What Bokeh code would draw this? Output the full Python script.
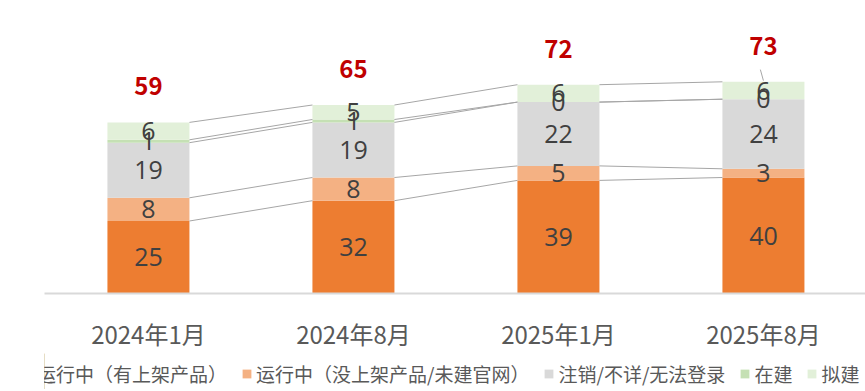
from bokeh.plotting import figure
from bokeh.layouts import column
from bokeh.models import ColumnDataSource, Range1d, FixedTicker, Legend, LegendItem
from bokeh.core.properties import value
from bokeh.embed import file_html
from bokeh.resources import INLINE

categories = ["2024年1月", "2024年8月", "2025年1月", "2025年8月"]
series_names = ["运行中（有上架产品）", "运行中（没上架产品/未建官网）", "注销/不详/无法登录", "在建", "拟建"]
running_listed = [25, 32, 39, 40]
running_unlisted = [8, 8, 5, 3]
cancelled = [19, 19, 22, 24]
building = [1, 1, 0, 0]
planned = [6, 5, 6, 6]
colors = ["#ED7D31", "#F4B183", "#D9D9D9", "#C5E0B4", "#E2F0D9"]

series = [running_listed, running_unlisted, cancelled, building, planned]
n = len(categories)
xs = list(range(n))
totals = [sum(s[i] for s in series) for i in range(n)]

FONT = "Noto Sans CJK SC"
bar_w = 0.4
FW = 821
PX_PER_CAT = 205
PX_PER_UNIT = 2.9

p = figure(frame_width=FW, frame_height=285, output_backend="svg", toolbar_location=None,
           x_range=Range1d(-0.507, -0.507 + FW / PX_PER_CAT), y_range=Range1d(0, 285 / PX_PER_UNIT),
           y_axis_location=None, min_border_left=44, min_border_right=0,
           min_border_top=8, min_border_bottom=60)
p.outline_line_color = None
p.xgrid.visible = False
p.ygrid.visible = False
p.background_fill_color = "white"
p.border_fill_color = "white"

data = {"x": xs}
keys = []
for k, s in enumerate(series):
    key = f"s{k}"
    keys.append(key)
    data[key] = s
src = ColumnDataSource(data)
rs = p.vbar_stack(keys, x="x", width=bar_w, color=colors, source=src, line_color=None)

# connector lines
x0s, y0s, x1s, y1s = [], [], [], []
cum = [[0] * n]
for s in series:
    cum.append([cum[-1][i] + s[i] for i in range(n)])
for lvl in cum[1:]:
    for i in range(n - 1):
        x0s.append(xs[i] + bar_w / 2)
        x1s.append(xs[i + 1] - bar_w / 2)
        y0s.append(lvl[i])
        y1s.append(lvl[i + 1])
p.segment(x0=x0s, y0=y0s, x1=x1s, y1=y1s, line_color="#A6A6A6", line_width=1)

# segment labels
lx, ly, lt = [], [], []
for k, s in enumerate(series):
    for i in range(n):
        lx.append(xs[i])
        ly.append(cum[k][i] + s[i] / 2)
        lt.append(str(s[i]))
p.text(x=lx, y=ly, text=lt, text_align="center", text_baseline="middle",
       text_font=value("Open Sans"), text_font_size="25px", text_color="#404040")

# leader line for last label
p.segment(x0=[xs[-1] - 0.015], y0=[totals[-1] + 4.2], x1=[xs[-1]], y1=[totals[-1] + 0.4],
          line_color="#A6A6A6", line_width=1)

# totals
p.text(x=xs, y=totals, text=[str(t) for t in totals], y_offset=-36,
       text_align="center", text_baseline="middle",
       text_font=value(FONT), text_font_size="24px", text_font_style="bold",
       text_color="#C00000")

p.xaxis.ticker = FixedTicker(ticks=xs)
p.xaxis.major_label_overrides = {i: c for i, c in enumerate(categories)}
p.xaxis.major_tick_line_color = None
p.xaxis.minor_tick_line_color = None
p.xaxis.major_tick_out = 0
p.xaxis.major_tick_in = 0
p.xaxis.axis_line_color = "#D9D9D9"
p.xaxis.axis_line_width = 2
p.xaxis.major_label_text_font = FONT
p.xaxis.major_label_text_font_size = "24px"
p.xaxis.major_label_text_color = "#595959"
p.xaxis.major_label_standoff = 22

# legend strip below the chart (proxy glyphs sit outside the visible range)
lg = figure(width=865, height=36, output_backend="svg", toolbar_location=None,
            x_range=Range1d(0, 1), y_range=Range1d(0, 1),
            x_axis_location=None, y_axis_location=None,
            min_border_left=0, min_border_right=0, min_border_top=0, min_border_bottom=0)
lg.outline_line_color = None
lg.xgrid.visible = False
lg.ygrid.visible = False
proxies = [lg.vbar(x=[-5], top=[1], width=0.1, color=colors[k], line_color=None) for k in range(len(series))]
legend = Legend(items=[LegendItem(label=series_names[k], renderers=[proxies[k]]) for k in range(len(series))],
                orientation="horizontal", location=(-22, 2),
                label_text_font=FONT, label_text_font_size="19px", label_text_color="#595959",
                glyph_width=11, glyph_height=11, label_standoff=4, spacing=14,
                padding=0, margin=0, border_line_color=None, background_fill_alpha=0)
lg.add_layout(legend, "center")

layout = column(p, lg, spacing=0)
open("out.html", "w").write(file_html(layout, INLINE))
